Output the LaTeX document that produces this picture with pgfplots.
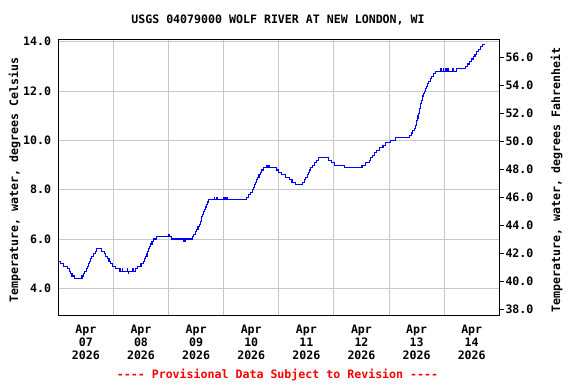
\documentclass[border=0pt]{standalone}
\usepackage{pgfplots}
\pgfplotsset{compat=1.18}
\usepackage{fontspec}
\setmonofont{DejaVu Sans Mono}
\newcommand\lab{\fontsize{11.6}{13.3}\selectfont\ttfamily\bfseries}
\definecolor{gridgray}{RGB}{200,200,200}
\definecolor{usgsblue}{RGB}{0,0,255}
\definecolor{usgsred}{RGB}{255,0,0}
\begin{document}
\begin{tikzpicture}[x=1pt,y=1pt]
\useasboundingbox (-58.3,-68.3) rectangle (517.7,315.7);
\begin{axis}[
 at={(0,0)}, anchor=south west,
 scale only axis, width=441pt, height=276.4pt,
 xmin=0, xmax=8, ymin=2.89, ymax=14.10,
 xtick={0.5,1.5,2.5,3.5,4.5,5.5,6.5,7.5},
 xticklabels={{Apr\\07\\2026},{Apr\\08\\2026},{Apr\\09\\2026},{Apr\\10\\2026},{Apr\\11\\2026},{Apr\\12\\2026},{Apr\\13\\2026},{Apr\\14\\2026}},
 minor xtick={1,2,3,4,5,6,7}, xminorgrids=true,
 ytick={4,6,8,10,12,14}, yticklabels={4.0,6.0,8.0,10.0,12.0,14.0}, ymajorgrids=true,
 major tick length=0pt, minor tick length=0pt,
 tick style={draw=none},
 major grid style={gridgray, line width=1pt},
 minor grid style={gridgray, line width=1pt},
 axis line style={line width=1.2pt},
 x tick label style={font=\lab, align=center, anchor=north, inner sep=0pt, yshift=-9pt},
 y tick label style={font=\lab, anchor=east, inner sep=0pt, xshift=-7pt},
]
\addplot[const plot, usgsblue, line width=1.1pt] coordinates {
(0.000,5.1) (0.043,5.0) (0.092,4.9) (0.170,4.8) (0.200,4.7) (0.225,4.6) (0.249,4.5) (0.291,4.4)
(0.430,4.5) (0.450,4.6) (0.480,4.7) (0.505,4.8) (0.530,4.9) (0.550,5.0) (0.565,5.1) (0.585,5.2)
(0.610,5.3) (0.640,5.4) (0.670,5.5) (0.700,5.6) (0.780,5.5) (0.830,5.4) (0.860,5.3) (0.890,5.2)
(0.920,5.1) (0.950,5.0) (0.980,4.9) (1.040,4.8) (1.120,4.7) (1.160,4.8) (1.170,4.7) (1.250,4.8)
(1.260,4.7) (1.270,4.6) (1.280,4.7) (1.345,4.8) (1.355,4.7) (1.400,4.8) (1.440,4.9) (1.500,5.0)
(1.540,5.1) (1.570,5.2) (1.590,5.3) (1.610,5.4) (1.625,5.5) (1.640,5.6) (1.660,5.7) (1.680,5.8)
(1.700,5.9) (1.730,6.0) (1.780,6.1) (2.000,6.2) (2.010,6.1) (2.060,6.0) (2.270,5.9) (2.290,6.0)
(2.300,5.9) (2.310,6.0) (2.430,6.1) (2.460,6.2) (2.490,6.3) (2.510,6.4) (2.535,6.5) (2.555,6.6)
(2.575,6.7) (2.590,6.8) (2.605,6.9) (2.620,7.0) (2.635,7.1) (2.650,7.2) (2.670,7.3) (2.685,7.4)
(2.700,7.5) (2.720,7.6) (2.830,7.7) (2.840,7.6) (2.875,7.7) (2.885,7.6) (3.000,7.7) (3.010,7.6)
(3.030,7.7) (3.040,7.6) (3.060,7.7) (3.070,7.6) (3.410,7.7) (3.450,7.8) (3.480,7.9) (3.515,8.0)
(3.540,8.1) (3.560,8.2) (3.580,8.3) (3.600,8.4) (3.620,8.5) (3.640,8.6) (3.660,8.7) (3.690,8.8)
(3.720,8.9) (3.785,9.0) (3.795,8.9) (3.805,9.0) (3.815,8.9) (3.825,9.0) (3.835,8.9) (3.960,8.8)
(3.990,8.7) (4.050,8.6) (4.120,8.5) (4.190,8.4) (4.240,8.3) (4.300,8.2) (4.430,8.3) (4.460,8.4)
(4.490,8.5) (4.515,8.6) (4.540,8.7) (4.560,8.8) (4.580,8.9) (4.610,9.0) (4.640,9.1) (4.680,9.2)
(4.720,9.3) (4.900,9.2) (4.950,9.1) (5.010,9.0) (5.200,8.9) (5.510,9.0) (5.580,9.1) (5.640,9.2)
(5.670,9.3) (5.700,9.4) (5.740,9.5) (5.780,9.6) (5.830,9.7) (5.890,9.8) (5.940,9.9) (6.020,10.0)
(6.110,10.1) (6.370,10.2) (6.400,10.3) (6.430,10.4) (6.455,10.5) (6.475,10.6) (6.490,10.7) (6.505,10.8)
(6.515,10.9) (6.525,11.0) (6.535,11.1) (6.545,11.2) (6.555,11.3) (6.565,11.4) (6.575,11.5) (6.585,11.6)
(6.600,11.7) (6.615,11.8) (6.630,11.9) (6.650,12.0) (6.665,12.1) (6.680,12.2) (6.700,12.3) (6.720,12.4)
(6.745,12.5) (6.770,12.6) (6.800,12.7) (6.840,12.8) (6.940,12.9) (6.950,12.8) (6.980,12.9) (6.990,12.8)
(7.030,12.9) (7.045,12.8) (7.070,12.9) (7.080,12.8) (7.150,12.9) (7.160,12.8) (7.220,12.9) (7.380,13.0)
(7.420,13.1) (7.460,13.2) (7.500,13.3) (7.530,13.4) (7.560,13.5) (7.590,13.6) (7.620,13.7) (7.655,13.8)
(7.700,13.9) (7.740,13.9)
};
\end{axis}
\begin{axis}[
 at={(0,0)}, anchor=south west,
 scale only axis, width=441pt, height=276.4pt,
 xmin=0, xmax=8, ymin=37.543, ymax=57.286,
 axis x line=none, axis y line*=right,
 xtick=\empty,
 ytick={38,40,42,44,46,48,50,52,54,56},
 yticklabels={38.0,40.0,42.0,44.0,46.0,48.0,50.0,52.0,54.0,56.0},
 tick align=outside, major tick length=5pt,
 tick style={line width=1pt, black},
 axis line style={line width=1.2pt},
 y tick label style={font=\lab, anchor=west, inner sep=0pt, xshift=1pt},
]
\end{axis}
\node[font=\lab, anchor=base] at (219.7,292.7) {USGS 04079000 WOLF RIVER AT NEW LONDON, WI};
\node[font=\lab, rotate=90, anchor=base] at (-40.3,135.7) {Temperature, water, degrees Celsius};
\node[font=\lab, rotate=90, anchor=base] at (501.9,135.7) {Temperature, water, degrees Fahrenheit};
\node[font=\lab, text=usgsred, anchor=base] at (219.2,-62.3) {---- Provisional Data Subject to Revision ----};
\end{tikzpicture}
\end{document}
